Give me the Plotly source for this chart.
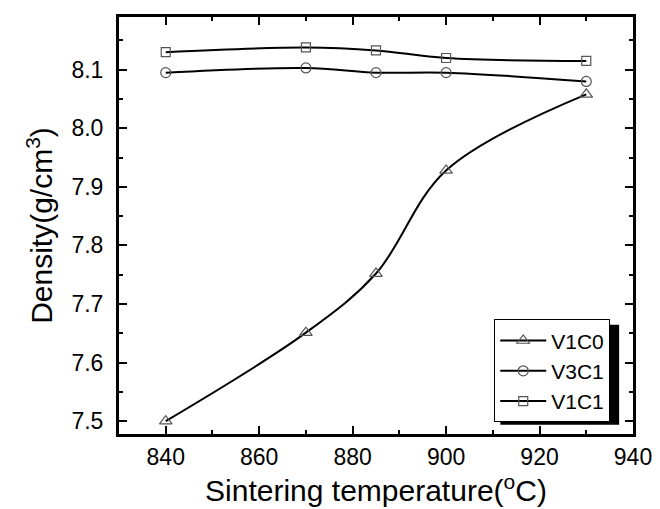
import plotly.graph_objects as go

temps = [840, 870, 885, 900, 930]
v1c0 = [7.500, 7.651, 7.752, 7.928, 8.058]
v3c1 = [8.095, 8.103, 8.095, 8.095, 8.080]
v1c1 = [8.130, 8.138, 8.133, 8.120, 8.115]

series = [
    ("V1C0", v1c0, "triangle-up-open", 11),
    ("V3C1", v3c1, "circle-open", 10),
    ("V1C1", v1c1, "square-open", 9),
]

fig = go.Figure()
for name, vals, sym, sz in series:
    fig.add_trace(go.Scatter(
        x=temps, y=vals, name=name, mode="lines+markers",
        line=dict(color="black", width=2, shape="spline", smoothing=1.0),
        marker=dict(symbol=sym, size=sz, color="#555", line=dict(width=1.2, color="#555")),
    ))

font = "Liberation Sans, Arial, sans-serif"
axis_common = dict(
    showline=True, linecolor="black", linewidth=3, mirror="ticks",
    ticks="inside", ticklen=8, tickwidth=2, tickcolor="black",
    showgrid=False, zeroline=False, automargin=False,
    tickfont=dict(family=font, size=23, color="black"),
)

fig.update_layout(
    width=660, height=509,
    margin=dict(l=111, r=35, t=9, b=83),
    paper_bgcolor="white", plot_bgcolor="white",
    showlegend=True,
    legend=dict(
        x=0.730, y=0.275, xanchor="left", yanchor="top",
        bgcolor="white", bordercolor="black", borderwidth=1,
        font=dict(family=font, size=21, color="black"),
        itemwidth=46, tracegroupgap=0,
    ),
    xaxis=dict(
        range=[830, 940], tickvals=[840, 860, 880, 900, 920, 940],
        ticklabelstandoff=0,
        minor=dict(ticks="inside", ticklen=4, tickwidth=2, tickcolor="black", dtick=10),
        title=dict(text="Sintering temperature(<sup>o</sup>C)",
                   font=dict(family=font, size=30, color="black"), standoff=4),
        **axis_common,
    ),
    yaxis=dict(
        range=[7.478, 8.19], tickvals=[7.5, 7.6, 7.7, 7.8, 7.9, 8.0, 8.1],
        tickformat=".1f", ticklabelstandoff=8,
        minor=dict(ticks="inside", ticklen=4, tickwidth=2, tickcolor="black", dtick=0.05),
        title=dict(text="Density(g/cm<sup>3</sup>)",
                   font=dict(family=font, size=30, color="black"), standoff=10),
        **axis_common,
    ),
)

# legend drop shadow
fig.add_shape(type="rect", xref="paper", yref="paper",
              x0=0.742, x1=0.973, y0=0.022, y1=0.262,
              fillcolor="black", line=dict(width=0), layer="above")

fig.write_html("out.html")
